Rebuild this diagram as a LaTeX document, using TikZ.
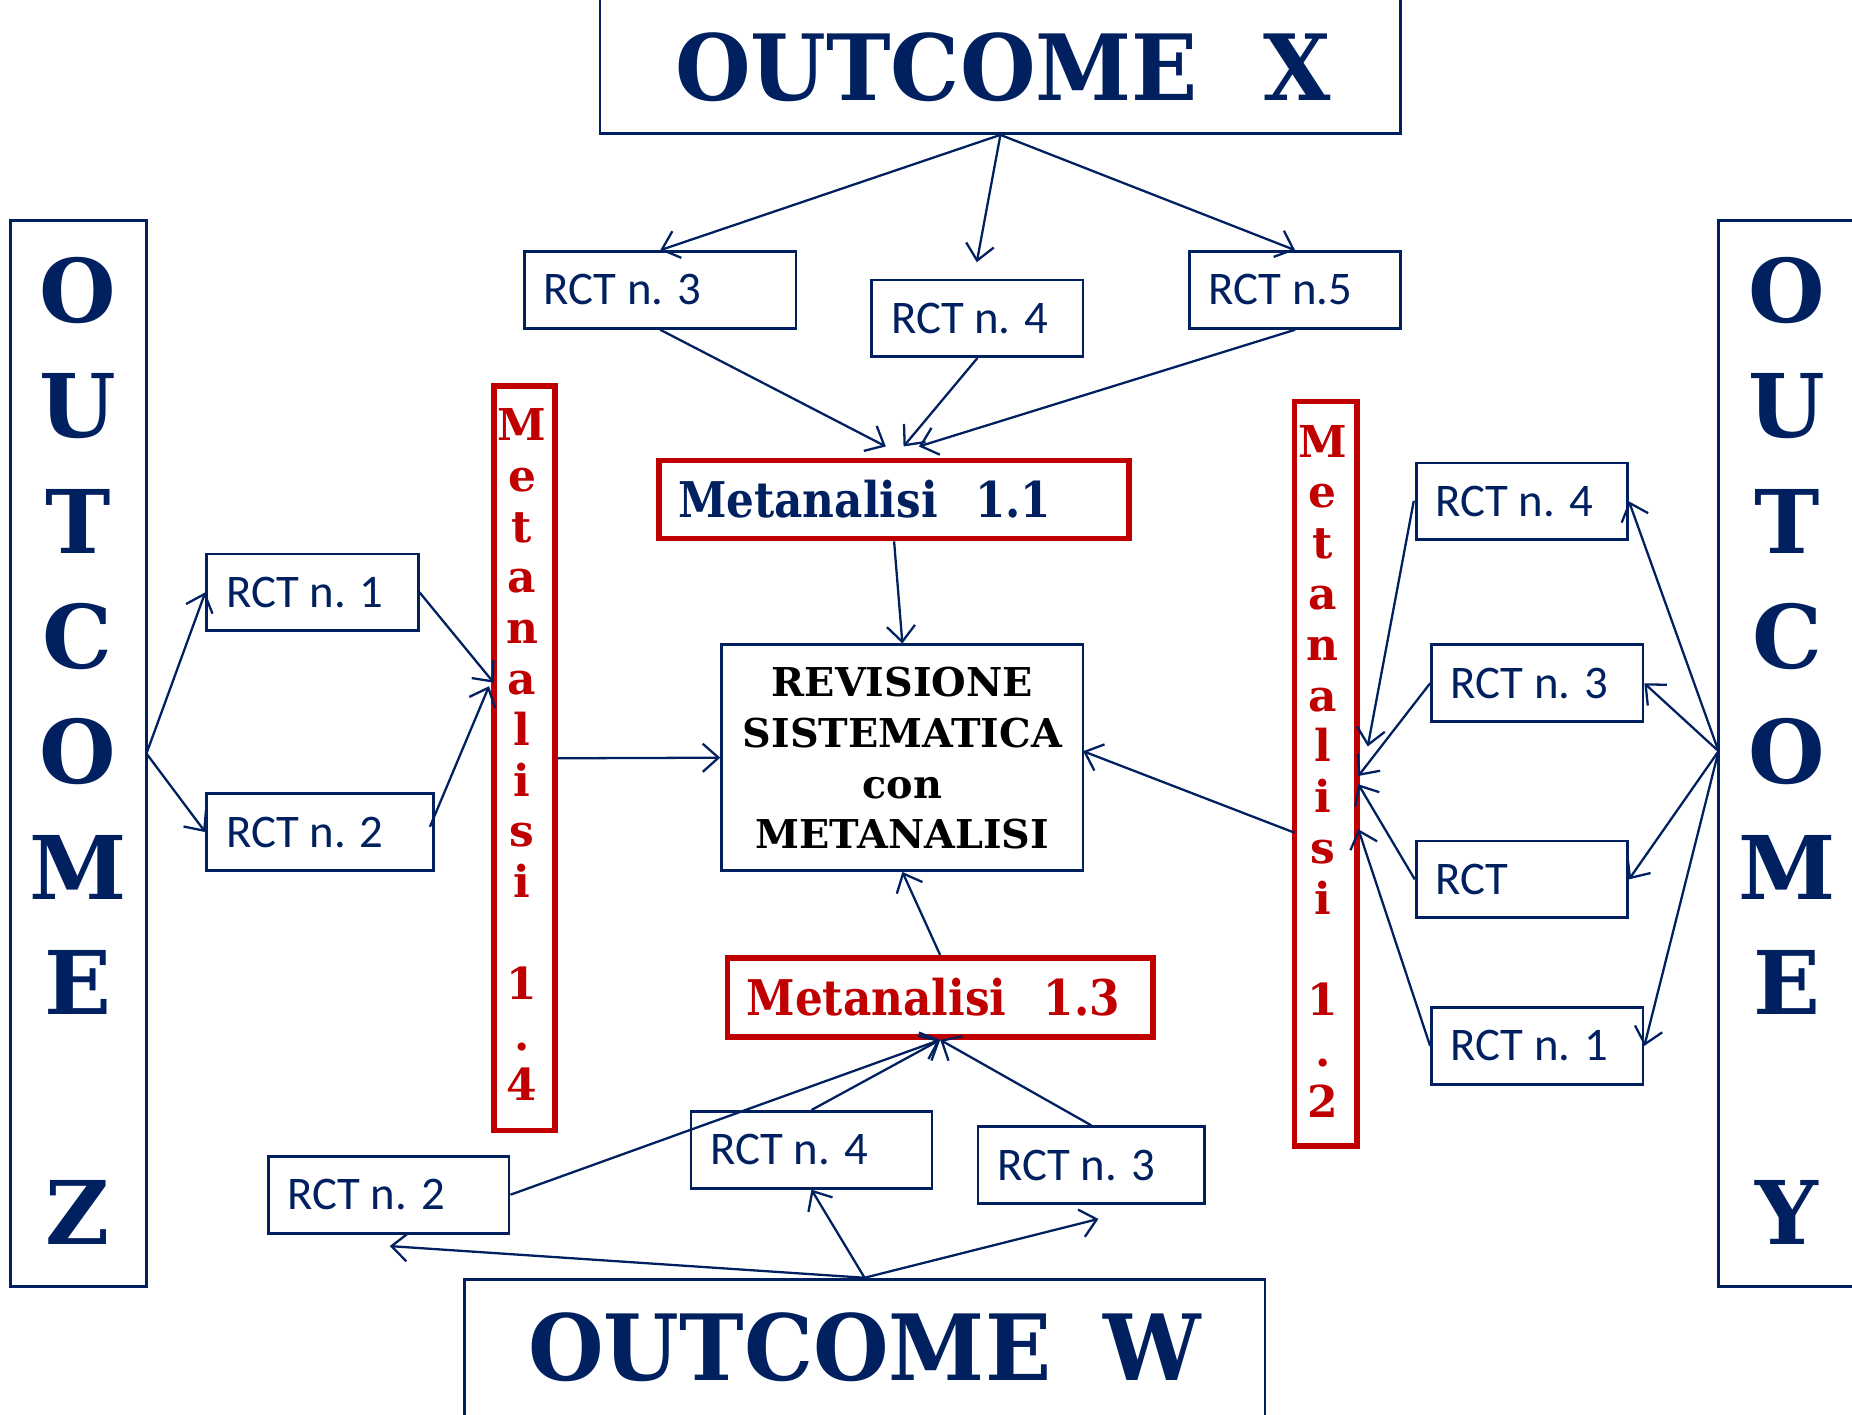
\documentclass[tikz,border=0pt]{standalone}
\usepackage{fontspec}
\usepackage{graphicx}
\usetikzlibrary{arrows.meta,fit}
\newfontfamily\rctfont{Carlito}
\newfontfamily\slabfont{DejaVu Serif}
\definecolor{navy}{HTML}{002060}
\definecolor{dred}{HTML}{C00000}
\newcommand\bx[6]{\node[#6, fit={(#2,#3)(#4,#5)}, inner sep=0pt] (#1) {};}
\newcommand\cond[2]{\scalebox{#1}[1]{#2}}
\tikzset{
  nbox/.style={draw=navy, line width=0.8pt},
  rbox/.style={draw=dred, line width=1.6pt},
  rcttext/.style={text=navy, font=\rctfont\fontsize{13.3}{16}\selectfont, inner sep=0pt, anchor=west},
  bigtitle/.style={text=navy, font=\slabfont\bfseries\fontsize{26}{30}\selectfont, inner sep=0pt},
  vtitle/.style={text=navy, font=\slabfont\bfseries\fontsize{25}{32.8}\selectfont, inner sep=0pt, align=center},
  vmeta/.style={text=dred, font=\slabfont\bfseries\fontsize{12.5}{14.45}\selectfont, inner sep=0pt, align=center},
  metatext/.style={font=\slabfont\bfseries\fontsize{14}{16}\selectfont, inner sep=0pt, anchor=west},
  revtext/.style={text=black, font=\slabfont\bfseries\fontsize{11.3}{14.4}\selectfont, inner sep=0pt, align=center},
  arr/.style={draw=navy, line width=0.65pt, -{Straight Barb[length=4.5pt,width=8pt]}}
}
\begin{document}
\begin{tikzpicture}[x={(0.011811cm,0cm)}, y={(0cm,-0.011811cm)}]
\useasboundingbox (0,0) rectangle (1568,1198);
% big outcome boxes
\bx{ox}{508}{-10}{1186}{113}{nbox}
\bx{oz}{9}{187}{124}{1089}{nbox}
\bx{oy}{1455}{187}{1580}{1089}{nbox}
\bx{ow}{393}{1083}{1071}{1210}{nbox}
\node[bigtitle] (oxt) at (849,57) {\cond{0.95}{OUTCOME\hspace{0.75em}X}};
\node[bigtitle] (owt) at (732,1141) {\cond{0.95}{OUTCOME\hspace{0.6em}W}};
\node[vtitle] (ozt) at (66,636) {O\\U\\T\\C\\O\\M\\E\\~\\Z};
\node[vtitle] (oyt) at (1513,636) {O\\U\\T\\C\\O\\M\\E\\~\\Y};
% top RCTs
\bx{r3t}{444}{213}{674}{278}{nbox}
\bx{r4t}{738}{237}{917}{302}{nbox}
\bx{r5t}{1007}{213}{1186}{278}{nbox}
\node[rcttext] (r3tt) at ([xshift=5.7pt]r3t.west) {RCT n. 3};
\node[rcttext] (r4tt) at ([xshift=5.7pt]r4t.west) {RCT n. 4};
\node[rcttext] (r5tt) at ([xshift=5.7pt]r5t.west) {RCT n.5};
% meta 1.1
\bx{m11}{558}{390}{956}{456}{rbox}
\node[metatext, text=navy] (m11t) at ([xshift=6pt]m11.west) {\cond{0.89}{Metanalisi\hspace{0.85em}1.1}};
% revisione
\bx{rev}{611}{546}{917}{737}{nbox}
\node[revtext] (revt) at (764,642) {REVISIONE\\SISTEMATICA\\con\\METANALISI};
% meta 1.4 and 1.2
\bx{m14}{418}{327}{470}{957}{rbox}
\node[vmeta] (m14t) at (442,639) {M\\e\\t\\a\\n\\a\\l\\i\\s\\i\\~\\1\\.\\4};
\bx{m12}{1096}{340}{1149}{970}{rbox}
\node[vmeta] (m12t) at (1120,653) {M\\e\\t\\a\\n\\a\\l\\i\\s\\i\\~\\1\\.\\2};
% left RCTs
\bx{r1l}{175}{469}{354}{534}{nbox}
\bx{r2l}{175}{672}{367}{737}{nbox}
\node[rcttext] (r1lt) at ([xshift=5.7pt]r1l.west) {RCT n. 1};
\node[rcttext] (r2lt) at ([xshift=5.7pt]r2l.west) {RCT n. 2};
% right RCTs
\bx{r4r}{1199}{392}{1378}{457}{nbox}
\bx{r3r}{1212}{546}{1391}{611}{nbox}
\bx{rr}{1199}{712}{1378}{777}{nbox}
\bx{r1r}{1212}{853}{1391}{918}{nbox}
\node[rcttext] (r4rt) at ([xshift=5.7pt]r4r.west) {RCT n. 4};
\node[rcttext] (r3rt) at ([xshift=5.7pt]r3r.west) {RCT n. 3};
\node[rcttext] (rrt) at ([xshift=5.7pt]rr.west) {RCT};
\node[rcttext] (r1rt) at ([xshift=5.7pt]r1r.west) {RCT n. 1};
% meta 1.3
\bx{m13}{616}{811}{976}{878}{rbox}
\node[metatext, text=dred] (m13t) at ([xshift=6pt]m13.west) {\cond{0.89}{Metanalisi\hspace{0.85em}1.3}};
% bottom RCTs
\bx{r2b}{227}{979}{431}{1044}{nbox}
\bx{r4b}{585}{941}{789}{1006}{nbox}
\bx{r3b}{828}{954}{1020}{1019}{nbox}
\node[rcttext] (r2bt) at ([xshift=5.7pt]r2b.west) {RCT n. 2};
\node[rcttext] (r4bt) at ([xshift=5.7pt]r4b.west) {RCT n. 4};
\node[rcttext] (r3bt) at ([xshift=5.7pt]r3b.west) {RCT n. 3};
% free ends
\coordinate (c4t) at (827,222);
\coordinate (a11a) at (750,378);
\coordinate (a11b) at (765,378);
\coordinate (a11c) at (778,378);
\coordinate (m12o) at (1096,705);
\coordinate (m12i) at (917,636);
\coordinate (ozo) at (124,638);
\coordinate (r2lo) at (364,700);
\coordinate (m14a) at (418,578);
\coordinate (m14b) at (414,581);
\coordinate (oyo) at (1455,636);
\coordinate (m12a) at (1158,632);
\coordinate (m12b) at (1150,657);
\coordinate (m12c) at (1150,664);
\coordinate (m12d) at (1150,702);
\coordinate (r4ro) at (1197,424);
\coordinate (c2b) at (330,1055);
\coordinate (c3b) at (930,1032);
% arrows
\draw[arr] (ox.south) -- (r3t.north);
\draw[arr] (ox.south) -- (c4t);
\draw[arr] (ox.south) -- (r5t.north);
\draw[arr] (r3t.south) -- (a11a);
\draw[arr] (r4t.south) -- (a11b);
\draw[arr] (r5t.south) -- (a11c);
\draw[arr] (m11.south) -- (rev.north);
\draw[arr] (m14.east) -- (rev.west);
\draw[arr] (m12o) -- (m12i);
\draw[arr] (m13.north) -- (rev.south);
\draw[arr] (ozo) -- (r1l.west);
\draw[arr] (ozo) -- (r2l.west);
\draw[arr] (r1l.east) -- (m14a);
\draw[arr] (r2lo) -- (m14b);
\draw[arr] (oyo) -- (r4r.east);
\draw[arr] (oyo) -- (r3r.east);
\draw[arr] (oyo) -- (rr.east);
\draw[arr] (oyo) -- (r1r.east);
\draw[arr] (r4ro) -- (m12a);
\draw[arr] (r3r.west) -- (m12b);
\draw[arr] (rr.west) -- (m12c);
\draw[arr] (r1r.west) -- (m12d);
\draw[arr] (r2b.east) -- (m13.south);
\draw[arr] (r4b.north) -- (m13.south);
\draw[arr] (r3b.north) -- (m13.south);
\draw[arr] (ow.north) -- (c2b);
\draw[arr] (ow.north) -- (r4b.south);
\draw[arr] (ow.north) -- (c3b);
\end{tikzpicture}
\end{document}
